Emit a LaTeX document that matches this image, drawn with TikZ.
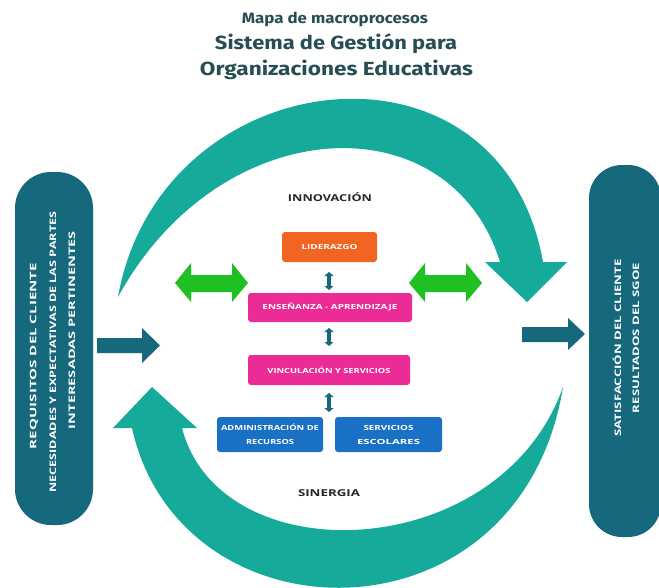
\documentclass[tikz,border=0pt]{standalone}
\usepackage{fontspec}
\usepackage{graphicx}
\setmainfont{Fira Sans}
\newfontfamily\labfont{Open Sans}
\usetikzlibrary{arrows.meta}
\newcommand{\fitw}[2]{\resizebox{#1}{\height}{#2}}
\definecolor{tealarc}{RGB}{22,170,154}
\definecolor{darkteal}{RGB}{22,104,124}
\definecolor{titlecol}{RGB}{40,78,84}
\definecolor{greenarr}{RGB}{30,192,34}
\definecolor{orangebox}{RGB}{242,100,34}
\definecolor{pinkbox}{RGB}{236,44,150}
\definecolor{bluebox}{RGB}{26,112,196}
\tikzset{
  pill/.style={fill=darkteal, draw=none, rounded corners=36pt},
  pilltext/.style={text=white, font=\labfont\bfseries\fontsize{9}{10}\selectfont, rotate=90, inner sep=0pt},
  procbox/.style={draw=none, rounded corners=3pt, text=white, font=\labfont\bfseries\fontsize{7}{14}\selectfont, align=center, inner sep=0pt},
  sidelab/.style={font=\labfont\bfseries\fontsize{9.5}{11}\selectfont, text=black!85, inner sep=0pt},
  titletext/.style={text=titlecol, font=\bfseries\fontsize{19}{21}\selectfont, inner sep=0pt},
  darrow/.style={draw=darkteal, line width=4pt, {Triangle[width=9pt,length=4pt]}-{Triangle[width=9pt,length=4pt]}},
  blockarrow/.style={fill=darkteal, draw=none},
  greenfill/.style={fill=greenarr, draw=none},
  arcfill/.style={fill=tealarc, draw=none}
}
\begin{document}
\begin{tikzpicture}[x=1pt,y=-1pt]
\useasboundingbox (0,0) rectangle (659,587);
\fill[white] (0,0) rectangle (659,587);

% title
\node[titletext, font=\bfseries\fontsize{15}{17}\selectfont] (t1) at (335,19) {\fitw{186pt}{Mapa de macroprocesos}};
\node[titletext] (t2) at (336,44) {\fitw{242pt}{Sistema de Gestión para}};
\node[titletext] (t3) at (336.5,70) {\fitw{273pt}{Organizaciones Educativas}};

% top curved arrow
\path[arcfill] (118,297) .. controls (160,60) and (500,20) .. (543,262)
  -- (567,262) -- (527,302) -- (485,262) -- (500,262)
  .. controls (450,100) and (220,110) .. (118,297) -- cycle;

% bottom curved arrow
\path[arcfill] (563,387) .. controls (520,650) and (180,645) .. (132,428)
  -- (113,428) -- (152,387) -- (197,428) -- (182,428)
  .. controls (220,575) and (500,565) .. (563,387) -- cycle;

% side pills
\path[pill] (15,172) rectangle (93,525);
\node[pilltext] (lp1) at (34,356) {\fitw{186pt}{REQUISITOS DEL CLIENTE}};
\node[pilltext] (lp2) at (53,352) {\fitw{281pt}{NECESIDADES Y EXPECTATIVAS DE LAS PARTES}};
\node[pilltext] (lp3) at (72,330) {\fitw{198pt}{INTERESADAS PERTINENTES}};
\path[pill, rounded corners=33pt] (589,165) rectangle (661,537);
\node[pilltext] (rp1) at (617,348) {\fitw{177pt}{SATISFACCIÓN DEL CLIENTE}};
\node[pilltext] (rp2) at (636,338) {\fitw{150pt}{RESULTADOS DEL SGOE}};

% dark block arrows
\path[blockarrow] (97,338) -- (142,338) -- (142,328) -- (160,345.5) -- (142,363) -- (142,353) -- (97,353) -- cycle;
\path[blockarrow] (522,327) -- (568,327) -- (568,318) -- (585,334) -- (568,350) -- (568,342) -- (522,342) -- cycle;

% green double arrows
\path[greenfill] (175,283) -- (191,263) -- (191,275) -- (232,275) -- (232,263) -- (248,283) -- (232,302) -- (232,292) -- (191,292) -- (191,302) -- cycle;
\path[greenfill] (409,283) -- (425,263) -- (425,275) -- (466,275) -- (466,263) -- (482,283) -- (466,302) -- (466,292) -- (425,292) -- (425,302) -- cycle;

% labels
\node[sidelab] (inn) at (330,197) {\fitw{84pt}{INNOVACIÓN}};
\node[sidelab] (sin) at (329,493) {\fitw{62pt}{SINERGIA}};

% process boxes
\node[procbox, fill=orangebox, minimum width=95pt, minimum height=30pt] (lid) at (329.5,247) {\fitw{56pt}{LIDERAZGO}};
\node[procbox, fill=pinkbox, minimum width=164pt, minimum height=29pt] (ens) at (330,307.5) {\fitw{135pt}{ENSEÑANZA - APRENDIZAJE}};
\node[procbox, fill=pinkbox, minimum width=162pt, minimum height=30pt] (vin) at (329,370) {\fitw{123pt}{VINCULACIÓN Y SERVICIOS}};
\node[procbox, fill=bluebox, minimum width=106pt, minimum height=35pt] (adm) at (270,434.5) {\fitw{98pt}{ADMINISTRACIÓN DE}\\\fitw{48pt}{RECURSOS}};
\node[procbox, fill=bluebox, minimum width=107pt, minimum height=35pt] (esc) at (388.5,434.5) {\fitw{50pt}{SERVICIOS}\\\fitw{63pt}{ESCOLARES}};

% small vertical double arrows
\coordinate (a1) at (329,272);
\coordinate (a2) at (329,290);
\coordinate (b1) at (329,328);
\coordinate (b2) at (329,346);
\coordinate (c1) at (329,393);
\coordinate (c2) at (329,412);
\draw[darrow] (a1) -- (a2);
\draw[darrow] (b1) -- (b2);
\draw[darrow] (c1) -- (c2);
\end{tikzpicture}
\end{document}
